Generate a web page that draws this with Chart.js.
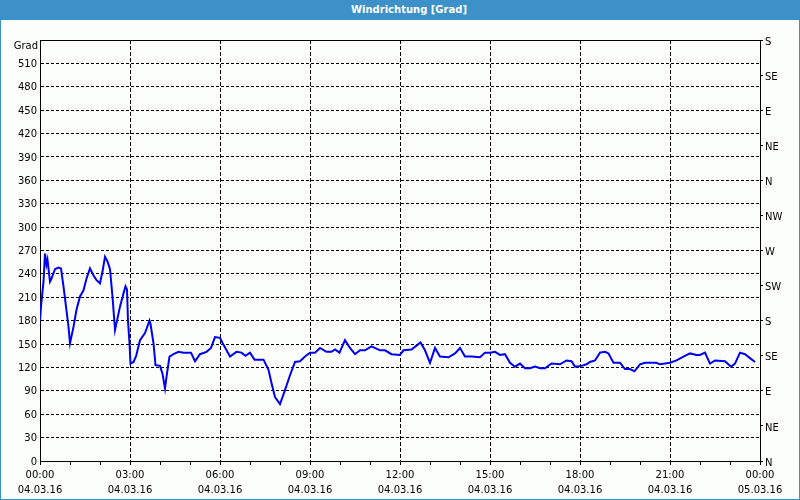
<!DOCTYPE html>
<html>
<head>
<meta charset="utf-8">
<script src="https://cdn.jsdelivr.net/npm/chart.js@4/dist/chart.umd.min.js"></script>
<style>
  body { margin: 0; background: #fff; }
  #frame {
    position: relative;
    width: 800px; height: 500px; box-sizing: border-box;
    border: 1px solid #3c91c8; border-top: none; background: #fcfefc;
  }
  #title {
    height: 20px; margin: 0 -1px; background: #3c91c8; color: #fff;
    font: bold 10px "DejaVu Sans", sans-serif; line-height: 20px;
    text-align: center; padding-left: 18px;
  }
  #unit {
    position: absolute; left: 0; width: 37px; top: 39px; text-align: right;
    font: 10px "DejaVu Sans", sans-serif; line-height: 13px; color: #000;
  }
  canvas { display: block; }
</style>
</head>
<body>
<div id="frame">
  <div id="title">Windrichtung [Grad]</div>
  <div id="unit">Grad</div>
  <canvas id="windChart" width="798" height="479"></canvas>
</div>
<script>
// minutes since 04.03.16 00:00
const minutes = [
  0, 2, 7, 10, 13, 15, 20, 23, 30, 37, 42, 47, 52, 57, 60, 67, 73, 80, 87, 93,
  100, 107, 113, 120, 125, 130, 135, 140, 145, 150, 153, 160, 167, 171, 174, 176, 179, 181, 187, 192,
  200, 210, 219, 221, 227, 231, 240, 245, 250, 253, 259, 267, 277, 287, 302, 310, 320, 333, 342, 350,
  360, 367, 380, 393, 403, 411, 420, 429, 447, 457, 463, 470, 480, 490, 500, 510, 520, 530, 540, 550,
  560, 573, 583, 590, 599, 610, 620, 630, 640, 650, 663, 680, 690, 703, 720, 727, 743, 753, 761, 770,
  780, 790, 800, 817, 830, 840, 850, 863, 880, 890, 900, 910, 920, 930, 940, 950, 960, 970, 980, 990,
  1000, 1010, 1023, 1040, 1053, 1063, 1070, 1083, 1093, 1100, 1110, 1120, 1130, 1137, 1147, 1160, 1170, 1180, 1189, 1200,
  1210, 1233, 1240, 1260, 1273, 1287, 1300, 1313, 1320, 1330, 1340, 1350, 1370, 1382, 1390, 1400, 1410, 1420, 1430
];

const grad = [
  180, 198, 230, 266, 252, 258, 230, 234, 246, 248, 247, 224, 198, 172, 151, 172, 194, 211, 219, 234,
  247, 238, 232, 228, 243, 262, 256, 246, 211, 168, 177, 198, 215, 224, 220, 180, 151, 125, 127, 134,
  155, 164, 180, 176, 151, 123, 122, 112, 93, 108, 134, 137, 140, 139, 139, 128, 137, 140, 145, 159,
  158, 149, 134, 140, 139, 135, 139, 130, 130, 117, 100, 82, 73, 91, 110, 127, 128, 134, 139, 139,
  145, 140, 140, 143, 139, 155, 145, 137, 142, 142, 147, 142, 142, 137, 136, 142, 143, 148, 152, 142,
  126, 145, 134, 133, 138, 145, 134, 134, 133, 139, 139, 140, 136, 137, 126, 121, 125, 119, 119, 121,
  119, 119, 125, 124, 129, 128, 121, 122, 124, 127, 129, 139, 140, 138, 126, 126, 118, 118, 115, 124,
  126, 126, 124, 126, 129, 134, 138, 136, 136, 139, 125, 129, 128, 121, 125, 139, 137, 132, 127
];

const timeLabels = ["00:00", "03:00", "06:00", "09:00", "12:00", "15:00", "18:00", "21:00", "00:00"];
const dateLabels = ["04.03.16", "04.03.16", "04.03.16", "04.03.16", "04.03.16",
                    "04.03.16", "04.03.16", "04.03.16", "05.03.16"];
const directions = ["N", "NE", "E", "SE", "S", "SW", "W", "NW", "N", "NE", "E", "SE", "S"];

Chart.defaults.font.family = "DejaVu Sans";
Chart.defaults.font.size = 10;
Chart.defaults.color = "#000";

const ctx = document.getElementById("windChart").getContext("2d");

new Chart(ctx, {
  type: "line",
  data: {
    datasets: [{
      data: minutes.map((m, i) => ({ x: m, y: grad[i] })),
      borderColor: "#0000f0",
      borderWidth: 2,
      pointRadius: 0,
      tension: 0,
      fill: false,
      yAxisID: "y"
    }]
  },
  options: {
    responsive: false,
    animation: false,
    layout: { padding: { top: 20, left: 0, right: 0, bottom: 0 } },
    plugins: {
      legend: { display: false },
      tooltip: { enabled: false }
    },
    scales: {
      x: {
        type: "linear",
        min: 0,
        max: 1440,
        afterFit: (s) => { s.height = 38; },
        border: { color: "#000", dash: [4, 2] },
        grid: {
          color: (c) => (c.tick && c.tick.value % 180 === 0 && c.tick.value > 0 && c.tick.value < 1440) ? "#000" : "rgba(0,0,0,0)",
          tickColor: "#000",
          tickLength: 4
        },
        ticks: {
          stepSize: 60,
          autoSkip: false,
          maxRotation: 0,
          padding: 3,
          font: { lineHeight: 1.5 },
          callback: (v) => v % 180 === 0 ? [timeLabels[v / 180], dateLabels[v / 180]] : ""
        }
      },
      xTop: {
        type: "linear",
        position: "top",
        display: true,
        afterFit: (s) => { s.height = 0; },
        border: { color: "#000" },
        grid: { display: false },
        ticks: { display: false }
      },
      y: {
        position: "left",
        min: 0,
        max: 540,
        afterFit: (s) => { s.width = 39; },
        border: { color: "#000", dash: [3, 2] },
        grid: {
          color: (c) => (c.tick && c.tick.value > 0 && c.tick.value < 540) ? "#000" : "rgba(0,0,0,0)",
          drawTicks: false
        },
        ticks: {
          stepSize: 30,
          padding: 3,
          labelOffset: 1,
          callback: (v) => v === 540 ? "" : v
        }
      },
      yDir: {
        position: "right",
        min: 0,
        max: 540,
        afterFit: (s) => { s.width = 39; },
        border: { color: "#000" },
        grid: { drawOnChartArea: false, tickColor: "#000", tickLength: 3 },
        ticks: {
          stepSize: 45,
          padding: 2,
          labelOffset: 2,
          callback: (v) => directions[v / 45]
        }
      }
    }
  }
});
</script>
</body>
</html>
